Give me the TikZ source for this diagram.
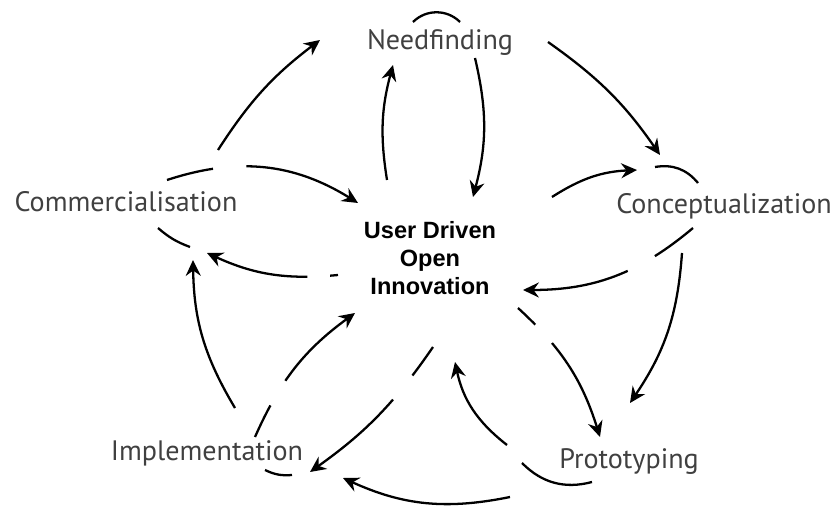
\documentclass[tikz,border=0pt]{standalone}
\usepackage{fontspec}
\setmainfont{PT Sans}
\newfontfamily\hubfont{Liberation Sans}
\usetikzlibrary{arrows.meta}

\begin{document}
\begin{tikzpicture}[x=0.02cm,y=-0.02cm,every node/.style={align=center,inner sep=0pt},
lbl/.style={text=black!75,font=\fontsize{16}{19}\selectfont},
hub/.style={font=\hubfont\bfseries\fontsize{13.4}{15.9}\selectfont},
flow/.style={line width=1.3pt,-{Stealth[length=9pt,width=8.5pt,inset=3pt]}},
rim/.style={line width=1.3pt},
gap/.style 2 args={dash pattern=on #1 off #2 on 600pt}
]
\useasboundingbox (0,0) rectangle (831,506);
\node[hub] (cent) at (430,258) {User Driven\\Open\\Innovation};
\node[lbl] (need) at (440,42) {Needfinding};
\node[lbl] (conc) at (724,206) {Conceptualization};
\node[lbl] (proto) at (629,462) {Prototyping};
\node[lbl] (impl) at (207,453) {Implementation};
\node[lbl] (comm) at (126,202) {Commercialisation};

% Needfinding
\draw[flow] ([shift={(-43,-78)}]cent.center) to[bend left=12] ([shift={(-47,23)}]need.center);
\draw[flow] ([shift={(35,16)}]need.center) to[bend left=14] ([shift={(43,-61)}]cent.center);
\draw[rim] ([shift={(-27,-20)}]need.center) to[bend left=45] ([shift={(20,-20)}]need.center);
\draw[flow] ([shift={(108,0)}]need.center) to[bend left=10] ([shift={(-64,-51)}]conc.center);
% Conceptualization
\draw[flow] ([shift={(122,-61)}]cent.center) to[bend left=15] ([shift={(-87,-36)}]conc.center);
\draw[rim] ([shift={(-69,-39)}]conc.center) to[bend left=30] ([shift={(-26,-23)}]conc.center);
\draw[flow,gap={27pt}{17.6pt}] ([shift={(-31,22)}]conc.center) to[bend left=20] ([shift={(93,32)}]cent.center);
\draw[flow] ([shift={(-42,47)}]conc.center) to[bend left=15] ([shift={(1,-59)}]proto.center);
% Prototyping
\draw[flow,gap={13.6pt}{14.2pt}] ([shift={(88,50)}]cent.center) to[bend left=15] ([shift={(-29,-25)}]proto.center);
\draw[flow] ([shift={(-122,-17)}]proto.center) to[bend left=20] ([shift={(25,104)}]cent.center);
\draw[rim] ([shift={(-107,1)}]proto.center) to[bend right=30] ([shift={(-37,20)}]proto.center);
\draw[flow] ([shift={(-119,35)}]proto.center) to[bend left=18] ([shift={(136,25)}]impl.center);
% Implementation
\draw[flow,gap={20pt}{17.6pt}] ([shift={(3,89)}]cent.center) to[bend left=10] ([shift={(103,19)}]impl.center);
\draw[flow,gap={20pt}{16.4pt}] ([shift={(48,-16)}]impl.center) to[bend left=15] ([shift={(-75,55)}]cent.center);
\draw[rim] ([shift={(58,17)}]impl.center) to[bend right=15] ([shift={(85,22)}]impl.center);
\draw[flow] ([shift={(28,-45)}]impl.center) to[bend left=15] ([shift={(67,58)}]comm.center);
% Commercialisation
\draw[flow,gap={4.5pt}{13pt}] ([shift={(-92,17)}]cent.center) to[bend left=15] ([shift={(81,51)}]comm.center);
\draw[rim] ([shift={(32,26)}]comm.center) to[bend right=10] ([shift={(64,45)}]comm.center);
\draw[flow,gap={27pt}{19pt}] ([shift={(41,-22)}]comm.center) to[bend left=25] ([shift={(-72,-55)}]cent.center);
\draw[flow] ([shift={(92,-52)}]comm.center) to[bend left=10] ([shift={(-120,-2)}]need.center); % <- back to Needfinding
\end{tikzpicture}
\end{document}
